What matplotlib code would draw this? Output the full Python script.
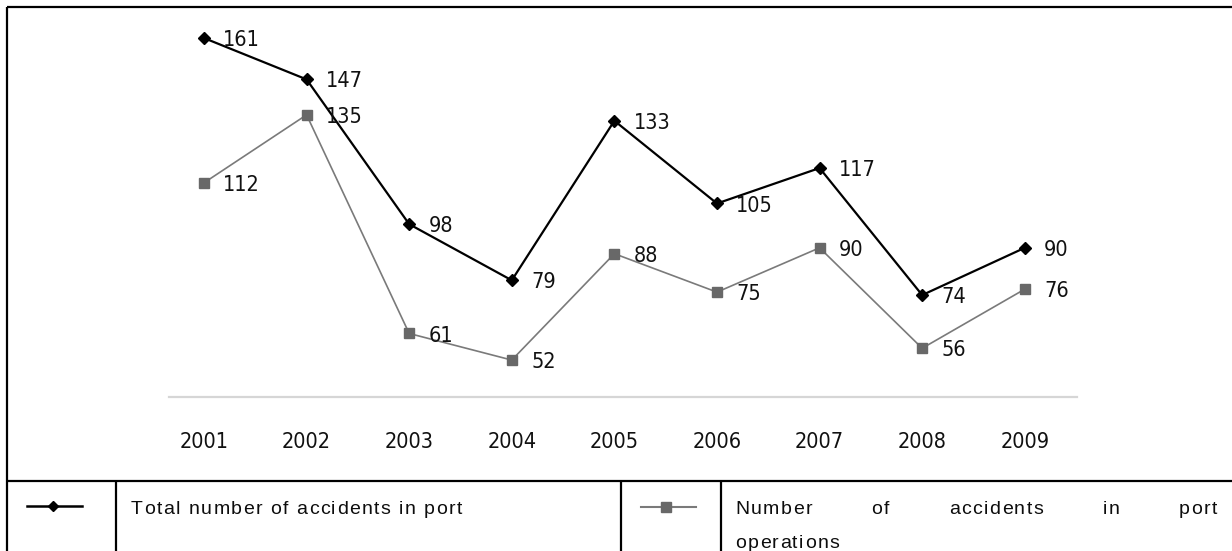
import matplotlib
matplotlib.use("Agg")
import matplotlib.pyplot as plt
from matplotlib import font_manager, ft2font
from matplotlib.font_manager import FontProperties
from matplotlib.lines import Line2D

W, H, DPI = 1232, 551, 100

years = ["2001", "2002", "2003", "2004", "2005", "2006", "2007", "2008", "2009"]
total_accidents = [161, 147, 98, 79, 133, 105, 117, 74, 90]
operations_accidents = [112, 135, 61, 52, 88, 75, 90, 56, 76]

legend_total = "Total number of accidents in port"
legend_ops_line1 = "Number of accidents in port"
legend_ops_line2 = "operations"

LEGEND_FAMILY = "Liberation Sans"
LEGEND_SIZE = 14


def fx(px):
    return px / W


def fy(py):
    return 1 - py / H


def hline(fig, x0, x1, y, lw=1.6):
    fig.add_artist(Line2D([fx(x0), fx(x1)], [fy(y), fy(y)], color="black",
                          lw=lw, transform=fig.transFigure, solid_capstyle="butt"))


def vline(fig, x, y0, y1, lw=1.6):
    fig.add_artist(Line2D([fx(x), fx(x)], [fy(y0), fy(y1)], color="black",
                          lw=lw, transform=fig.transFigure, solid_capstyle="butt"))


def char_advances(s, family, size):
    fp = FontProperties(family=family, size=size)
    font = ft2font.FT2Font(font_manager.findfont(fp))
    font.set_size(size, DPI)
    return [font.load_char(ord(c)).linearHoriAdvance / 65536 for c in s]


def tracked_text(fig, x, baseline, s, tracking, width=None, size=LEGEND_SIZE,
                 family=LEGEND_FAMILY, color="#0d0d0d"):
    # draw text char by char so the wide letter spacing of the original is kept
    adv = char_advances(s, family, size)
    extra_space = 0.0
    if width is not None:
        n_space = s.count(" ")
        natural = sum(adv) + tracking * (len(s) - 1)
        extra_space = (width - natural) / n_space if n_space else 0.0
    cx = x
    for c, a in zip(s, adv):
        if c != " ":
            fig.text(fx(cx), fy(baseline), c, fontsize=size, family=family,
                     ha="left", va="baseline", color=color)
        cx += a + tracking
        if c == " ":
            cx += extra_space


fig = plt.figure(figsize=(W / DPI, H / DPI), dpi=DPI)
fig.patch.set_facecolor("white")

# chart area (pasted chart picture)
ax_left, ax_right, ax_top, ax_bottom = 169, 1077, 15, 397
ax = fig.add_axes([fx(ax_left), fy(ax_bottom), fx(ax_right - ax_left),
                   (ax_bottom - ax_top) / H])

x = list(range(len(years)))
ax.plot(x, total_accidents, color="black", lw=1.6, marker="D", markersize=6,
        markerfacecolor="black", markeredgecolor="black", zorder=3)
ax.plot(x, operations_accidents, color="#7a7a7a", lw=1.2, marker="s", markersize=6.5,
        markerfacecolor="#686868", markeredgecolor="#686868", zorder=2)

label_font = dict(family="DejaVu Sans", fontstretch="condensed", fontsize=15.5,
                  color="#111111")
for xi, v in zip(x, total_accidents):
    ax.annotate(str(v), (xi, v), xytext=(14, -1.5), textcoords="offset points",
                ha="left", va="center", **label_font)
for xi, v in zip(x, operations_accidents):
    ax.annotate(str(v), (xi, v), xytext=(14, -1.5), textcoords="offset points",
                ha="left", va="center", **label_font)

ax.set_xlim(-0.341, 8.509)
ax.set_ylim(39.5, 168.8)
ax.set_xticks(x)
ax.set_xticklabels(years, family="DejaVu Sans", fontstretch="condensed",
                   fontsize=15.5, color="#111111")
ax.tick_params(axis="x", length=0, pad=25)
ax.set_yticks([])
for side in ["top", "left", "right"]:
    ax.spines[side].set_visible(False)
ax.spines["bottom"].set_color("#d6d6d6")
ax.spines["bottom"].set_linewidth(1.6)
ax.patch.set_alpha(0)

# table borders
hline(fig, 7, W, 7)
vline(fig, 7, 7, H)
hline(fig, 7, W, 481)
for xd in (116, 621, 721):
    vline(fig, xd, 481, H)

# legend symbols
fig.add_artist(Line2D([fx(27), fx(82)], [fy(506), fy(506)], color="black", lw=1.8,
                      transform=fig.transFigure))
fig.add_artist(Line2D([fx(53)], [fy(506)], marker="D", markersize=5.5, color="black",
                      transform=fig.transFigure))
fig.add_artist(Line2D([fx(641), fx(696)], [fy(507), fy(507)], color="#7a7a7a", lw=1.5,
                      transform=fig.transFigure))
fig.add_artist(Line2D([fx(666)], [fy(507)], marker="s", markersize=6.5, color="#686868",
                      transform=fig.transFigure))

# legend texts: letter spacing chosen so the first line spans x=131..462
adv_total = char_advances(legend_total, LEGEND_FAMILY, LEGEND_SIZE)
tracking = (462 - 131 - sum(adv_total)) / (len(legend_total) - 1)
tracked_text(fig, 131, 514, legend_total, tracking)
tracked_text(fig, 735, 514, legend_ops_line1, tracking, width=1217 - 735)
tracked_text(fig, 735, 548, legend_ops_line2, tracking)

fig.savefig("out.png", dpi=DPI)
